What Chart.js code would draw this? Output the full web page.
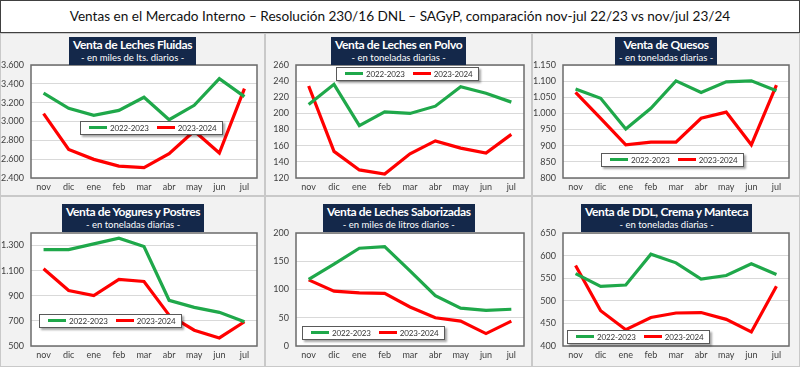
<!DOCTYPE html>
<html>
<head>
<meta charset="utf-8">
<script src="https://cdn.jsdelivr.net/npm/chart.js@4.4.1/dist/chart.umd.min.js"></script>
<style>
  html, body { margin: 0; padding: 0; background: #ffffff; }
  body { width: 800px; height: 367px; position: relative; overflow: hidden; font-family: Lato, "Open Sans", sans-serif; }
  #head {
    position: absolute; left: 0; top: 0; width: 798px; height: 31px;
    border: 1px solid #404040; background: #fff;
    text-align: center; line-height: 31px; font-size: 13.6px; color: #111;
  }
  .panel { position: absolute; background: #f2f2f2; outline: 1px solid #c9c9c9; outline-offset: -1px; overflow: hidden; }
  .panel canvas { position: absolute; left: 0; top: 0; }
  .ttl {
    position: absolute; background: #14284a; color: #fff; text-align: center;
    padding: 1px 4px 1px 4px; white-space: nowrap; z-index: 3;
  }
  .ttl b { display: block; font-size: 12px; line-height: 14px; letter-spacing: -0.35px; }
  .ttl span { display: block; font-size: 9.5px; line-height: 12px; }
  .leg {
    position: absolute; background: #fff; border: 1px solid #595959; z-index: 2;
    box-shadow: 2px 2px 2px rgba(0,0,0,0.35); height: 12px; line-height: 12px;
    font-size: 8px; letter-spacing: -0.15px; color: #333; white-space: nowrap; padding: 0 5px 0 6px;
  }
  .leg i { display: inline-block; width: 18px; height: 3px; vertical-align: middle; margin: 0 3px 0 2px; position: relative; top: -1px; }
</style>
</head>
<body>
<div id="head">Ventas en el Mercado Interno – Resolución 230/16 DNL – SAGyP, comparación nov-jul 22/23 vs nov/jul 23/24</div>
<script>
const months = ['nov', 'dic', 'ene', 'feb', 'mar', 'abr', 'may', 'jun', 'jul'];
const seriesNames = ['2022-2023', '2023-2024'];
const seriesColors = ['#1fa84a', '#ff0000'];

// Leches fluidas - miles de lts. diarios
const fluidas2223 = [3302, 3140, 3065, 3118, 3257, 3019, 3172, 3455, 3264];
const fluidas2324 = [3083, 2704, 2598, 2527, 2510, 2658, 2899, 2665, 3349];
// Leches en polvo - toneladas diarias
const polvo2223 = [211, 236, 185, 202, 200, 209, 233, 225, 214];
const polvo2324 = [234, 153, 130, 125, 150, 166, 157, 151, 174];
// Quesos - toneladas diarias
const quesos2223 = [1076, 1047, 952, 1016, 1101, 1065, 1098, 1101, 1070];
const quesos2324 = [1065, 985, 903, 911, 911, 985, 1004, 903, 1088];
// Yogures y postres - toneladas diarias
const yogures2223 = [1268, 1268, 1313, 1359, 1292, 864, 808, 768, 693];
const yogures2324 = [1115, 942, 901, 1030, 1014, 746, 626, 564, 693];
const yogurTicks = [500, 700, 900, 1100, 1300];
// Leches saborizadas - miles de litros diarios
const sabor2223 = [118, 145, 173, 176, 133, 89, 67, 63, 65];
const sabor2324 = [117, 97, 94, 93, 69, 50, 44, 22, 44];
// DDL, crema y manteca - toneladas diarias
const ddl2223 = [560, 532, 535, 603, 584, 548, 556, 582, 558];
const ddl2324 = [578, 478, 436, 463, 473, 474, 459, 431, 532];

const panels = [
  { title: 'Venta de Leches Fluidas', sub: '- en miles de lts. diarios -', a: fluidas2223, b: fluidas2324,
    min: 2400, max: 3600, step: 200, box: [0, 33, 265, 163], pad: [32, 8, 18], ttlTop: 4, leg: [80, 121] },
  { title: 'Venta de Leches en Polvo', sub: '- en toneladas diarias -', a: polvo2223, b: polvo2324,
    min: 120, max: 260, step: 20, box: [265, 33, 267, 163], pad: [32, 8, 18], ttlTop: 4, leg: [336, 67] },
  { title: 'Venta de Quesos', sub: '- en toneladas diarias -', a: quesos2223, b: quesos2324,
    min: 800, max: 1150, step: 50, box: [532, 33, 268, 163], pad: [32, 11, 18], ttlTop: 4, leg: [601, 153] },
  { title: 'Venta de Yogures y Postres', sub: '- en toneladas diarias -', a: yogures2223, b: yogures2324,
    min: 500, max: 1400, step: 200, ticks: yogurTicks, box: [0, 196, 265, 171], pad: [37, 8, 21], ttlTop: 8, leg: [39, 314] },
  { title: 'Venta de Leches Saborizadas', sub: '- en miles de litros diarios -', a: sabor2223, b: sabor2324,
    min: 0, max: 200, step: 50, box: [265, 196, 267, 171], pad: [37, 8, 21], ttlTop: 8, leg: [302, 326] },
  { title: 'Venta de DDL, Crema y Manteca', sub: '- en toneladas diarias -', a: ddl2223, b: ddl2324,
    min: 400, max: 650, step: 50, box: [532, 196, 268, 171], pad: [37, 11, 21], ttlTop: 8, leg: [567, 330] }
];

function fmt(v) {
  return String(v).replace(/\B(?=(\d{3})+(?!\d))/g, '.');
}

const plotFrame = {
  id: 'plotFrame',
  beforeDraw(chart) {
    const a = chart.chartArea, c = chart.ctx;
    c.save();
    c.fillStyle = '#ffffff';
    c.fillRect(a.left, a.top, a.right - a.left, a.bottom - a.top);
    c.restore();
  },
  afterDraw(chart) {
    const a = chart.chartArea, c = chart.ctx;
    c.save();
    c.strokeStyle = '#6b6b6b';
    c.lineWidth = 1.5;
    c.strokeRect(a.left, a.top, a.right - a.left, a.bottom - a.top);
    c.restore();
  }
};

panels.forEach(function (p) {
  const div = document.createElement('div');
  div.className = 'panel';
  div.style.left = p.box[0] + 'px';
  div.style.top = p.box[1] + 'px';
  div.style.width = p.box[2] + 'px';
  div.style.height = p.box[3] + 'px';
  document.body.appendChild(div);

  const cv = document.createElement('canvas');
  cv.width = p.box[2];
  cv.height = p.box[3];
  div.appendChild(cv);

  const t = document.createElement('div');
  t.className = 'ttl';
  t.innerHTML = '<b>' + p.title + '</b><span>' + p.sub + '</span>';
  div.appendChild(t);
  t.style.top = p.ttlTop + 'px';
  t.style.left = Math.round((p.box[2] - t.offsetWidth) / 2) + 'px';

  const lg = document.createElement('div');
  lg.className = 'leg';
  lg.style.left = p.leg[0] + 'px';
  lg.style.top = p.leg[1] + 'px';
  let html = '';
  seriesNames.forEach(function (n, k) {
    html += '<i style="background:' + seriesColors[k] + ';margin-left:' + (k ? 8 : 2) + 'px"></i>' + n;
  });
  lg.innerHTML = html;
  document.body.appendChild(lg);

  new Chart(cv, {
    type: 'line',
    data: {
      labels: months,
      datasets: [
        { label: seriesNames[0], data: p.a, borderColor: seriesColors[0], borderWidth: 3.2, pointRadius: 0, tension: 0, fill: false },
        { label: seriesNames[1], data: p.b, borderColor: seriesColors[1], borderWidth: 3.2, pointRadius: 0, tension: 0, fill: false }
      ]
    },
    options: {
      responsive: false,
      animation: false,
      layout: { padding: { left: 0, top: p.pad[0], right: p.pad[1], bottom: 0 } },
      plugins: { legend: { display: false }, tooltip: { enabled: false } },
      scales: {
        x: {
          offset: true,
          grid: { display: false, drawTicks: false },
          border: { display: false },
          ticks: { color: '#404040', font: { family: 'Lato', size: 9 }, padding: 4, maxRotation: 0 },
          afterFit(s) { s.height = p.pad[2]; }
        },
        y: {
          min: p.min, max: p.max,
          grid: { color: '#d9d9d9', drawTicks: false },
          border: { display: false },
          ticks: { stepSize: p.step, includeBounds: false, color: '#404040', font: { family: 'Lato', size: 9 }, padding: 7, callback: fmt },
          afterBuildTicks(s) {
            if (p.ticks) s.ticks = p.ticks.map(function (v) { return { value: v }; });
          },
          afterFit(s) { s.width = 31; }
        }
      }
    },
    plugins: [plotFrame]
  });
});
</script>
</body>
</html>
